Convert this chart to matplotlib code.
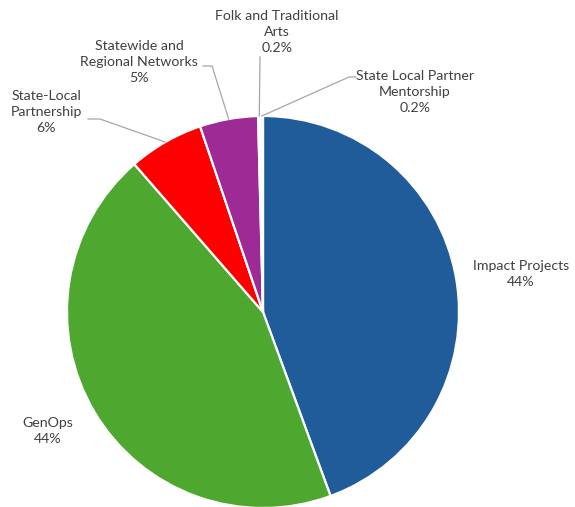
import numpy as np
import matplotlib.pyplot as plt

categories = ["Impact Projects", "GenOps", "State-Local\nPartnership",
              "Statewide and\nRegional Networks", "Folk and Traditional\nArts",
              "State Local Partner\nMentorship"]
values = [44.4, 44.2, 6.2, 4.8, 0.2, 0.2]
pct_labels = ["44%", "44%", "6%", "5%", "0.2%", "0.2%"]
colors = ["#1F5C99", "#4EA72E", "#FF0000", "#9E2A96", "#D9D9D9", "#D9D9D9"]

# label centres in pixel coords (x, y from top) and leader bend points
label_pos = [(521, 274), (48, 431), (46, 112), (139, 62), (277, 32), (415, 92)]
leader_pts = [None, None, [(88, 119), (100, 119)], [(203, 66), (212, 66)],
              [(260, 57)], [(356, 77), (349, 77)]]

W, H = 575, 507
cx, cy, r = 263, 312, 196

plt.rcParams['font.family'] = ['Lato', 'DejaVu Sans']
fig = plt.figure(figsize=(W / 100, H / 100), dpi=100)
ax = fig.add_axes([0, 0, 1, 1])

wedges, _ = ax.pie(values, colors=colors, startangle=90, counterclock=False,
                   center=(cx, H - cy), radius=r,
                   wedgeprops=dict(edgecolor='white', linewidth=1.6))
ax.set_xlim(0, W)
ax.set_ylim(0, H)
ax.set_aspect('equal')
ax.axis('off')

for i, w in enumerate(wedges):
    lx, ly = label_pos[i]
    ax.text(lx, H - ly, categories[i] + "\n" + pct_labels[i], ha='center',
            va='center', fontsize=10.2, color='#404040', linespacing=1.42)
    if leader_pts[i] is not None:
        mid = np.deg2rad((w.theta1 + w.theta2) / 2)
        ex = cx + r * np.cos(mid)
        ey = (H - cy) + r * np.sin(mid)
        xs = [p[0] for p in leader_pts[i]] + [ex]
        ys = [H - p[1] for p in leader_pts[i]] + [ey]
        ax.plot(xs, ys, color='#A6A6A6', linewidth=0.9)

fig.savefig("out.png", dpi=100)
